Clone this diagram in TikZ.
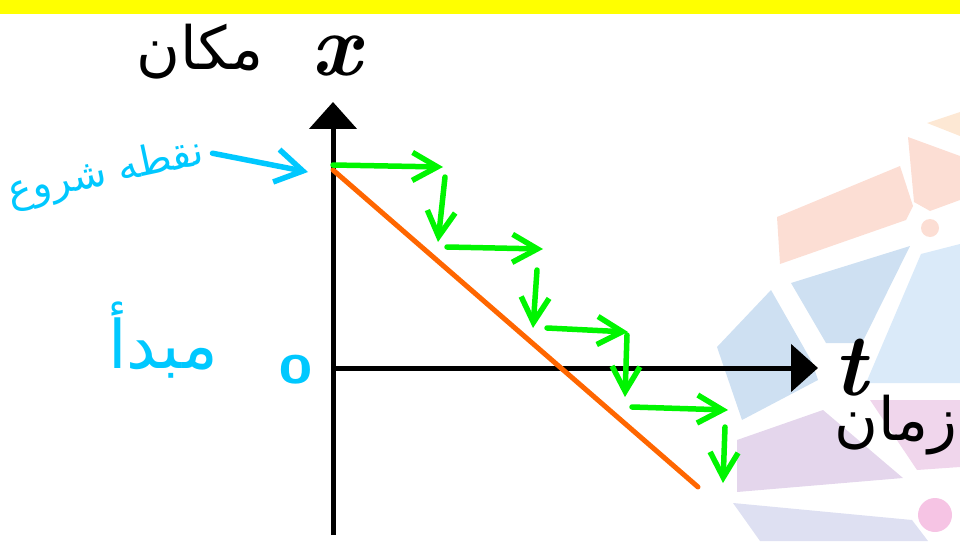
\documentclass[tikz,border=0pt]{standalone}
\usepackage{fontspec}
\usetikzlibrary{arrows.meta,positioning}
\newfontfamily\arabicfont[Script=Arabic]{DejaVu Sans}
\TeXXeTstate=1
\definecolor{hyellow}{RGB}{255,255,0}
\definecolor{hcyan}{RGB}{0,200,255}
\definecolor{hgreen}{RGB}{0,245,0}
\definecolor{horange}{RGB}{255,102,0}
\definecolor{wsalmon}{RGB}{252,222,212}
\definecolor{wpeach}{RGB}{253,232,212}
\definecolor{wblue}{RGB}{206,224,242}
\definecolor{wlblue}{RGB}{218,234,249}
\definecolor{wpurple}{RGB}{228,214,236}
\definecolor{wpink}{RGB}{240,214,236}
\definecolor{wdot}{RGB}{246,196,228}
\definecolor{wlav}{RGB}{222,224,242}
\tikzset{
  axis/.style ={line width=1mm, -{Triangle[length=5.4mm,width=9.4mm]}},
  stair/.style={draw=hgreen, line width=1.1mm, line cap=round,
                -{Straight Barb[length=5mm,width=5.6mm]}},
  hint/.style ={draw=hcyan, line width=1.1mm, line cap=round,
                -{Straight Barb[length=5.4mm,width=6.6mm]}},
  arlbl/.style={inner sep=0pt, font=\arabicfont\fontsize{34}{34}\selectfont},
  mlbl/.style ={inner sep=0pt, font=\fontsize{50}{50}\selectfont\itshape\bfseries}
}
\begin{document}
\begin{tikzpicture}[x=0.02cm,y=-0.02cm]
\useasboundingbox (0,0) rectangle (960,541);
% watermark logo, right edge
\fill[wpeach]   (927,123) -- (960,112) -- (960,136) -- cycle;
\fill[wsalmon]  (908,137) -- (960,156) -- (960,200) -- (930,211) -- (914,202) -- cycle;
\fill[wsalmon]  (777,217) -- (900,166) -- (913,206) -- (906,220) -- (780,264) -- cycle;
\fill[wsalmon]  (930,228) circle (9);
\fill[wblue]    (791,283) -- (910,246) -- (862,343) -- (826,343) -- cycle;
\fill[wlblue]   (921,254) -- (960,244) -- (960,383) -- (866,383) -- cycle;
\fill[wblue]    (717,347) -- (771,290) -- (812,362) -- (818,380) -- (742,420) -- cycle;
\fill[wpurple]  (737,440) -- (823,410) -- (903,478) -- (737,492) -- cycle;
\fill[wpink]    (870,400) -- (960,400) -- (960,467) -- (917,470) -- cycle;
\fill[wdot]     (935,515) circle (17);
\fill[wlav]     (733,503) -- (912,520) -- (928,541) -- (760,541) -- cycle;
% top band
\fill[hyellow] (0,0) rectangle (960,14);
% axes
\coordinate (o) at (333,368);
\coordinate (xtop) at (333,102);
\coordinate (tend) at (818,368);
\draw[axis] (333,535) -- (xtop);
\draw[axis] (o) -- (tend);
\node[mlbl] (xl) at (336,56) {x};
\node[arlbl] (makan) at (200,52) {\beginR مکان\endR};
\node[mlbl] (tl) at (850,368) {t};
\node[arlbl] (zaman) at (896,425) {\beginR زمان\endR};
% start point
\coordinate (p0) at (308,172);
\node[arlbl, text=hcyan, rotate=12, font=\arabicfont\fontsize{23}{23}\selectfont] (start) at (106,174) {\beginR نقطه شروع\endR};
\draw[hint] ([xshift=5pt]start.east) -- (p0);
\node[arlbl, text=hcyan, font=\arabicfont\fontsize{38}{38}\selectfont] (mabda) at (163,340) {\beginR مبدأ\endR};
\node[inner sep=0pt, text=hcyan, font=\fontsize{34}{34}\selectfont\sffamily\bfseries] (ol) at (296,370) {o};
% uniform motion
\draw[draw=horange, line width=1mm, line cap=round] (333,170) -- (698,487);
\foreach \xa/\ya/\xb/\yb in {333/165/443/167, 445/177/438/242, 447/247/543/249,
    537/270/533/328, 547/328/628/332, 627/335/625/397, 632/407/728/410, 725/427/723/483}
  \draw[stair] (\xa,\ya) -- (\xb,\yb);
\end{tikzpicture}
\end{document}
